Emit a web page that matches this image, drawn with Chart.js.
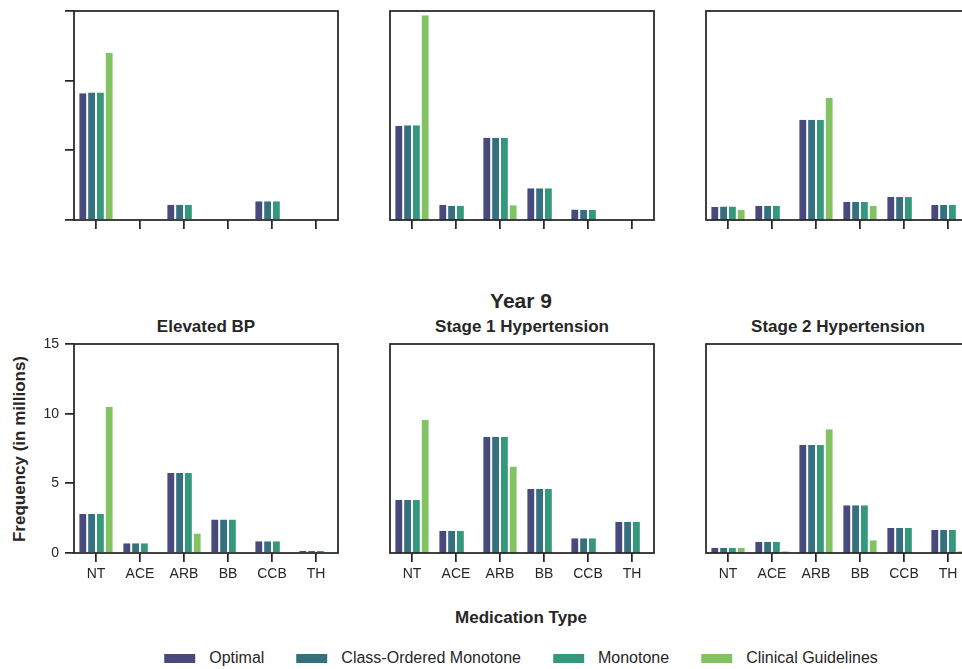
<!DOCTYPE html>
<html>
<head>
<meta charset="utf-8">
<script src="https://cdn.jsdelivr.net/npm/chart.js@4/dist/chart.umd.min.js"></script>
<style>
  html, body { margin: 0; padding: 0; background: #fff; overflow: hidden; }
  body { width: 962px; height: 669px; position: relative; font-family: "Liberation Sans", Arial, sans-serif; color: #262626; }
  canvas { position: absolute; }
  .txt { position: absolute; white-space: nowrap; font-weight: bold; transform: translate(-50%, -50%); }
  #legend { position: absolute; left: 521px; top: 658px; transform: translate(-50%, -50%); display: flex; align-items: center; font-size: 16px; white-space: nowrap; }
  #legend .item { display: flex; align-items: center; margin: 0 16px; }
  #legend .box { width: 31px; height: 9px; margin-right: 14px; }
</style>
</head>
<body>

<div class="txt" style="left:521px; top:301px; font-size:21px;">Year 9</div>
<div class="txt" style="left:206px; top:327px; font-size:17px;">Elevated BP</div>
<div class="txt" style="left:522px; top:327px; font-size:17px;">Stage 1 Hypertension</div>
<div class="txt" style="left:838px; top:327px; font-size:17px;">Stage 2 Hypertension</div>
<div class="txt" style="left:521px; top:618px; font-size:17px;">Medication Type</div>
<div class="txt" style="left:20px; top:449px; font-size:17px; transform: translate(-50%, -50%) rotate(-90deg);">Frequency (in millions)</div>
<div id="legend"></div>

<script>
const categories = ["NT", "ACE", "ARB", "BB", "CCB", "TH"];
const seriesNames = ["Optimal", "Class-Ordered Monotone", "Monotone", "Clinical Guidelines"];
const seriesColors = ["#484a7e", "#35707f", "#34987c", "#82c262"];
const yTicks = [0, 5, 10, 15];

// top row (titles cut off in the picture)
const topLeftOptimal = [9.1, 0, 1.1, 0, 1.35, 0];
const topLeftClassOrdered = [9.15, 0, 1.1, 0, 1.35, 0];
const topLeftMonotone = [9.15, 0, 1.1, 0, 1.35, 0];
const topLeftClinical = [12.0, 0, 0, 0, 0, 0];

const topMidOptimal = [6.75, 1.08, 5.9, 2.27, 0.75, 0];
const topMidClassOrdered = [6.8, 1.03, 5.9, 2.27, 0.72, 0];
const topMidMonotone = [6.8, 1.03, 5.9, 2.27, 0.72, 0];
const topMidClinical = [14.7, 0, 1.05, 0, 0, 0];

const topRightOptimal = [0.93, 1.03, 7.2, 1.29, 1.65, 1.08];
const topRightClassOrdered = [0.96, 1.03, 7.2, 1.29, 1.65, 1.08];
const topRightMonotone = [0.96, 1.03, 7.2, 1.29, 1.65, 1.08];
const topRightClinical = [0.72, 0, 8.76, 1.03, 0, 0];

// Year 9
const elevatedOptimal = [2.8, 0.7, 5.75, 2.4, 0.85, 0.15];
const elevatedClassOrdered = [2.8, 0.7, 5.75, 2.4, 0.85, 0.15];
const elevatedMonotone = [2.8, 0.7, 5.75, 2.4, 0.85, 0.15];
const elevatedClinical = [10.5, 0, 1.4, 0, 0, 0];

const stage1Optimal = [3.8, 1.6, 8.35, 4.6, 1.05, 2.25];
const stage1ClassOrdered = [3.8, 1.6, 8.35, 4.6, 1.05, 2.25];
const stage1Monotone = [3.8, 1.6, 8.35, 4.6, 1.05, 2.25];
const stage1Clinical = [9.55, 0, 6.2, 0, 0, 0];

const stage2Optimal = [0.38, 0.8, 7.75, 3.42, 1.8, 1.65];
const stage2ClassOrdered = [0.38, 0.8, 7.75, 3.42, 1.8, 1.65];
const stage2Monotone = [0.38, 0.8, 7.75, 3.42, 1.8, 1.65];
const stage2Clinical = [0.38, 0.12, 8.88, 0.91, 0, 0.12];

const INK = "#262626";
const PLOT_W = 264, PLOT_H = 209;
// top padding is bigger than the y tick label overhang so every plot area starts at the same place
const AXIS_W = 70, AXIS_H = 40, PAD_T = 18, PAD_R = 10;
const TICK_FONT = { family: "'Liberation Sans', Arial, sans-serif", size: 14 };

// draws the box around each plot
const framePlugin = {
  id: "frame",
  afterDraw(chart) {
    const a = chart.chartArea;
    const ctx = chart.ctx;
    ctx.save();
    ctx.strokeStyle = INK;
    ctx.lineWidth = 1.75;
    ctx.strokeRect(a.left, a.top, a.right - a.left, a.bottom - a.top);
    ctx.restore();
  },
};

function makePanel(left, top, series, opts) {
  const canvas = document.createElement("canvas");
  const w = PLOT_W + AXIS_W + PAD_R;
  const h = PLOT_H + PAD_T + AXIS_H;
  canvas.width = w;
  canvas.height = h;
  canvas.style.width = w + "px";
  canvas.style.height = h + "px";
  canvas.style.left = left - AXIS_W + "px";
  canvas.style.top = top - PAD_T + "px";
  document.body.appendChild(canvas);

  new Chart(canvas, {
    type: "bar",
    data: {
      labels: categories,
      datasets: series.map((vals, i) => ({
        label: seriesNames[i],
        data: vals,
        backgroundColor: seriesColors[i],
        borderColor: "#ffffff",
        borderWidth: { left: 1, right: 1, top: 0, bottom: 0 },
        categoryPercentage: 0.8,
        barPercentage: 1.0,
      })),
    },
    options: {
      responsive: false,
      animation: false,
      layout: { padding: { left: 0, top: PAD_T, right: PAD_R, bottom: 0 } },
      plugins: { legend: { display: false }, tooltip: { enabled: false } },
      scales: {
        x: {
          offset: true,
          border: { display: false },
          grid: {
            offset: false,
            drawOnChartArea: false,
            drawTicks: true,
            tickLength: 9,
            lineWidth: 1.75,
            color: INK,
          },
          ticks: {
            display: opts.xLabels,
            color: INK,
            padding: 4,
            font: TICK_FONT,
          },
          afterFit: (s) => { s.height = AXIS_H; },
        },
        y: {
          min: yTicks[0],
          max: yTicks[yTicks.length - 1],
          border: { display: false },
          grid: {
            display: opts.yTicks,
            drawOnChartArea: false,
            drawTicks: true,
            tickLength: 9,
            lineWidth: 1.75,
            color: INK,
          },
          ticks: {
            stepSize: 5,
            display: opts.yTicks,
            padding: 6,
            color: INK,
            font: TICK_FONT,
            callback: (v) => (opts.yLabels ? v : ""),
          },
          afterFit: (s) => { s.width = AXIS_W; },
        },
      },
    },
    plugins: [framePlugin],
  });
}

const colLeft = [74, 390, 706];
const rowTop = [11, 344];

makePanel(colLeft[0], rowTop[0], [topLeftOptimal, topLeftClassOrdered, topLeftMonotone, topLeftClinical], { xLabels: false, yTicks: true, yLabels: false });
makePanel(colLeft[1], rowTop[0], [topMidOptimal, topMidClassOrdered, topMidMonotone, topMidClinical], { xLabels: false, yTicks: false, yLabels: false });
makePanel(colLeft[2], rowTop[0], [topRightOptimal, topRightClassOrdered, topRightMonotone, topRightClinical], { xLabels: false, yTicks: false, yLabels: false });

makePanel(colLeft[0], rowTop[1], [elevatedOptimal, elevatedClassOrdered, elevatedMonotone, elevatedClinical], { xLabels: true, yTicks: true, yLabels: true });
makePanel(colLeft[1], rowTop[1], [stage1Optimal, stage1ClassOrdered, stage1Monotone, stage1Clinical], { xLabels: true, yTicks: false, yLabels: false });
makePanel(colLeft[2], rowTop[1], [stage2Optimal, stage2ClassOrdered, stage2Monotone, stage2Clinical], { xLabels: true, yTicks: false, yLabels: false });

// legend
const legend = document.getElementById("legend");
seriesNames.forEach((name, i) => {
  const item = document.createElement("div");
  item.className = "item";
  item.innerHTML = `<div class="box" style="background:${seriesColors[i]}"></div><span>${name}</span>`;
  legend.appendChild(item);
});
</script>
</body>
</html>
